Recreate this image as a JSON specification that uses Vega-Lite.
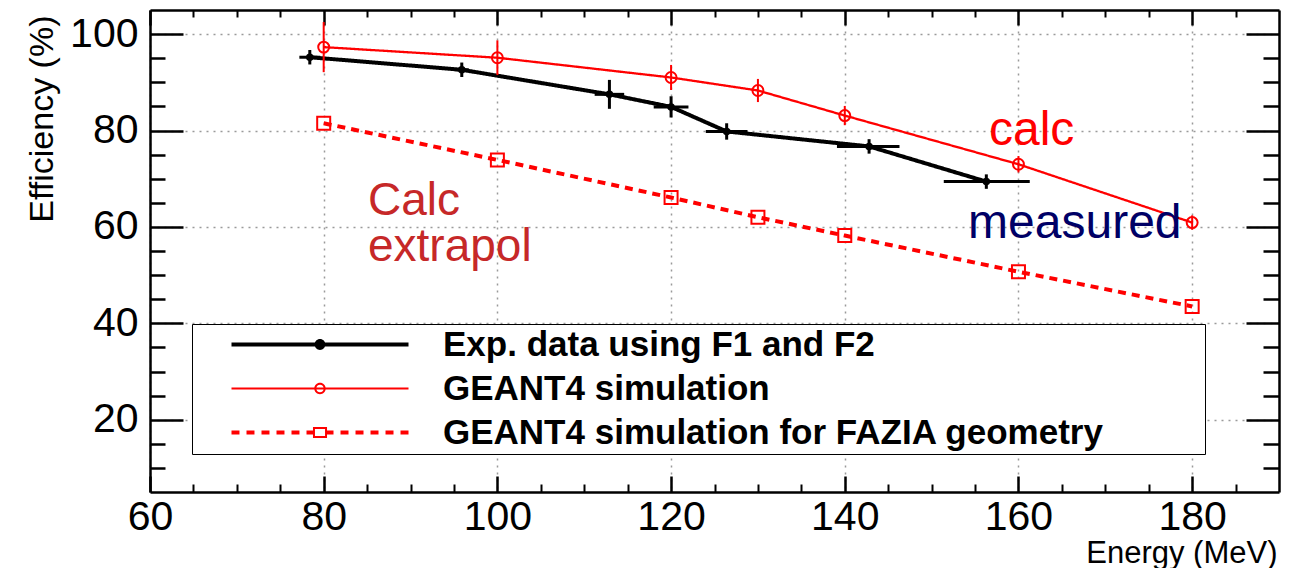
{
  "$schema": "https://vega.github.io/schema/vega-lite/v6.json",
  "width": 1129,
  "height": 482,
  "autosize": {"type": "none"},
  "padding": {"left": 150, "top": 10, "right": 19, "bottom": 76},
  "background": "white",
  "config": {"font": "Liberation Sans", "view": {"stroke": null}},
  "datasets": {
    "series": [
      {"s": "Exp. data using F1 and F2", "E": 78.4, "eff": 95.2, "Elo": 77.2, "Ehi": 79.6, "efflo": 93.7, "effhi": 96.7},
      {"s": "Exp. data using F1 and F2", "E": 95.9, "eff": 92.6, "Elo": 95.1, "Ehi": 96.7, "efflo": 91.1, "effhi": 94.1},
      {"s": "Exp. data using F1 and F2", "E": 112.9, "eff": 87.5, "Elo": 111.2, "Ehi": 114.6, "efflo": 84.5, "effhi": 90.5},
      {"s": "Exp. data using F1 and F2", "E": 120.0, "eff": 84.9, "Elo": 118.0, "Ehi": 122.0, "efflo": 82.7, "effhi": 87.1},
      {"s": "Exp. data using F1 and F2", "E": 126.4, "eff": 79.8, "Elo": 124.0, "Ehi": 128.8, "efflo": 78.1, "effhi": 81.5},
      {"s": "Exp. data using F1 and F2", "E": 142.8, "eff": 76.7, "Elo": 139.1, "Ehi": 146.3, "efflo": 75.2, "effhi": 78.2},
      {"s": "Exp. data using F1 and F2", "E": 156.3, "eff": 69.4, "Elo": 151.4, "Ehi": 161.3, "efflo": 67.9, "effhi": 70.9},
      {"s": "GEANT4 simulation", "E": 80, "eff": 97.3, "efflo": 92.1, "effhi": 102.5},
      {"s": "GEANT4 simulation", "E": 100, "eff": 95.1, "efflo": 91.5, "effhi": 98.7},
      {"s": "GEANT4 simulation", "E": 120, "eff": 91.0, "efflo": 88.4, "effhi": 93.6},
      {"s": "GEANT4 simulation", "E": 130, "eff": 88.3, "efflo": 85.9, "effhi": 90.7},
      {"s": "GEANT4 simulation", "E": 140, "eff": 83.1, "efflo": 81.1, "effhi": 85.1},
      {"s": "GEANT4 simulation", "E": 160, "eff": 73.0, "efflo": 71.3, "effhi": 74.7},
      {"s": "GEANT4 simulation", "E": 180, "eff": 60.9, "efflo": 59.4, "effhi": 62.4},
      {"s": "GEANT4 simulation for FAZIA geometry", "E": 80, "eff": 81.5},
      {"s": "GEANT4 simulation for FAZIA geometry", "E": 100, "eff": 73.9},
      {"s": "GEANT4 simulation for FAZIA geometry", "E": 120, "eff": 66.1},
      {"s": "GEANT4 simulation for FAZIA geometry", "E": 130, "eff": 62.0},
      {"s": "GEANT4 simulation for FAZIA geometry", "E": 140, "eff": 58.2},
      {"s": "GEANT4 simulation for FAZIA geometry", "E": 160, "eff": 50.7},
      {"s": "GEANT4 simulation for FAZIA geometry", "E": 180, "eff": 43.5}
    ],
    "notes": [
      {"note": "Calc\nextrapol", "E": 85.1, "eff": 62.4},
      {"note": "calc", "E": 156.6, "eff": 77.0},
      {"note": "measured", "E": 154.2, "eff": 57.7}
    ]
  },
  "resolve": {"axis": {"x": "independent", "y": "independent"}},
  "layer": [
    {
      "data": {"name": "series"},
      "mark": {"type": "line", "strokeCap": "butt"},
      "encoding": {
        "x": {"field": "E", "type": "quantitative", "scale": {"domain": [60, 190], "nice": false, "zero": false},
          "axis": {"orient": "bottom", "values": [60, 80, 100, 120, 140, 160, 180], "tickSize": -16, "tickWidth": 2.5, "tickColor": "black",
            "domain": true, "domainColor": "black", "domainWidth": 2.5,
            "grid": true, "gridColor": "#9a9a9a", "gridDash": [2, 5], "gridWidth": 1.5,
            "labelFont": "Liberation Sans", "labelFontSize": 41, "labelColor": "black", "labelPadding": 21, "labelFlush": false, "labelOverlap": false,
            "title": "Energy (MeV)", "titleFont": "Liberation Sans", "titleFontSize": 31, "titleFontWeight": "normal", "titleColor": "black",
            "titleAnchor": "end", "titleAlign": "right", "titleBaseline": "alphabetic", "titleX": 1127, "titleY": 70}},
        "y": {"field": "eff", "type": "quantitative", "scale": {"domain": [5, 105], "nice": false, "zero": false},
          "axis": {"orient": "left", "values": [20, 40, 60, 80, 100], "tickSize": -33, "tickWidth": 2.5, "tickColor": "black",
            "domain": true, "domainColor": "black", "domainWidth": 2.5,
            "grid": true, "gridColor": "#9a9a9a", "gridDash": [2, 5], "gridWidth": 1.5,
            "labelFont": "Liberation Sans", "labelFontSize": 41, "labelColor": "black", "labelPadding": 45, "labelFlush": false, "labelOverlap": false,
            "title": "Efficiency (%)", "titleFont": "Liberation Sans", "titleFontSize": 34, "titleFontWeight": "normal", "titleColor": "black",
            "titleAnchor": "end", "titleAngle": -90, "titleAlign": "right", "titleBaseline": "alphabetic", "titleX": -98, "titleY": 5}},
        "color": {"field": "s", "type": "nominal",
          "scale": {"domain": ["Exp. data using F1 and F2", "GEANT4 simulation", "GEANT4 simulation for FAZIA geometry"], "range": ["black", "#ff0000", "#ff0000"]},
          "legend": {
            "orient": "none", "legendX": 42, "legendY": 314, "direction": "vertical", "title": null,
            "fillColor": "white", "strokeColor": "black", "padding": 3, "cornerRadius": 0,
            "labelFont": "Liberation Sans", "labelFontSize": 35, "labelFontWeight": "bold", "labelColor": "black", "labelLimit": 3000,
            "labelOffset": 194, "symbolOffset": 19, "symbolSize": 144, "rowPadding": 8,
            "labelExpr": "datum.label + '          \u200b'",
            "symbolStrokeWidth": 0,
            "symbolOpacity": 1,
            "symbolFillColor": {"expr": "datum.value === 'Exp. data using F1 and F2' ? 'black' : '#ff0000'"},
            "symbolType": {"expr": "datum.value === 'Exp. data using F1 and F2' ? 'M0,-0.333H29.5V0.333H0ZM15.65,0A0.9,0.9,0,1,1,13.85,0A0.9,0.9,0,1,1,15.65,0Z' : datum.value === 'GEANT4 simulation' ? 'M0,-0.167H29.5V0.167H0ZM15.7,0A0.95,0.95,0,1,1,13.8,0A0.95,0.95,0,1,1,15.7,0ZM15.37,0A0.62,0.62,0,1,0,14.13,0A0.62,0.62,0,1,0,15.37,0Z' : 'M0,-0.333H1.33V0.333H0ZM2.5,-0.333H3.83V0.333H2.5ZM5,-0.333H6.33V0.333H5ZM7.5,-0.333H8.83V0.333H7.5ZM10,-0.333H11.33V0.333H10ZM12.5,-0.333H13.58V0.333H12.5ZM15.92,-0.333H17V0.333H15.92ZM18.17,-0.333H19.5V0.333H18.17ZM20.67,-0.333H22V0.333H20.67ZM23.17,-0.333H24.5V0.333H23.17ZM25.67,-0.333H27V0.333H25.67ZM28.17,-0.333H29.5V0.333H28.17ZM13.58,-0.92H15.92V0.92H13.58ZM13.91,-0.59V0.59H15.59V-0.59Z'"},
            "encode": {"legend": {"strokeWidth": {"value": 2}}}
          }},
        "strokeDash": {"field": "s", "type": "nominal", "legend": null,
          "scale": {"domain": ["GEANT4 simulation", "Exp. data using F1 and F2", "GEANT4 simulation for FAZIA geometry"], "range": [[1, 0], [1, 0], [8, 6]]}},
        "strokeWidth": {"field": "s", "type": "nominal", "legend": null,
          "scale": {"type": "ordinal", "domain": ["GEANT4 simulation", "Exp. data using F1 and F2", "GEANT4 simulation for FAZIA geometry"], "range": [2.3, 4, 4]}}
      }
    },
    {
      "data": {"name": "series"},
      "mark": {"type": "point", "strokeWidth": 2, "opacity": 1},
      "encoding": {
        "x": {"field": "E", "type": "quantitative", "scale": {"domain": [60, 190], "nice": false, "zero": false},
          "axis": {"orient": "bottom", "values": [65, 70, 75, 85, 90, 95, 105, 110, 115, 125, 130, 135, 145, 150, 155, 165, 170, 175, 185],
            "tickSize": -8, "tickWidth": 2, "tickColor": "black", "domain": false, "grid": false, "labels": false, "title": null}},
        "y": {"field": "eff", "type": "quantitative", "scale": {"domain": [5, 105], "nice": false, "zero": false},
          "axis": {"orient": "left", "values": [10, 15, 25, 30, 35, 45, 50, 55, 65, 70, 75, 85, 90, 95],
            "tickSize": -15, "tickWidth": 2.5, "tickColor": "black", "domain": false, "grid": false, "labels": false, "title": null}},
        "shape": {"field": "s", "type": "nominal", "legend": null,
          "scale": {"domain": ["GEANT4 simulation", "Exp. data using F1 and F2", "GEANT4 simulation for FAZIA geometry"], "range": ["circle", "circle", "square"]}},
        "size": {"field": "s", "type": "nominal", "legend": null,
          "scale": {"type": "ordinal", "domain": ["GEANT4 simulation", "Exp. data using F1 and F2", "GEANT4 simulation for FAZIA geometry"], "range": [120, 30, 169]}},
        "fill": {"field": "s", "type": "nominal", "legend": null,
          "scale": {"domain": ["GEANT4 simulation", "Exp. data using F1 and F2", "GEANT4 simulation for FAZIA geometry"], "range": ["transparent", "black", "transparent"]}},
        "stroke": {"field": "s", "type": "nominal", "legend": null,
          "scale": {"domain": ["GEANT4 simulation", "Exp. data using F1 and F2", "GEANT4 simulation for FAZIA geometry"], "range": ["#ff0000", "black", "#ff0000"]}}
      }
    },
    {
      "data": {"name": "series"},
      "transform": [{"filter": "datum.s === 'Exp. data using F1 and F2'"}],
      "mark": {"type": "rule", "color": "black", "strokeWidth": 3},
      "encoding": {
        "x": {"field": "E", "type": "quantitative", "scale": {"domain": [60, 190], "nice": false, "zero": false},
          "axis": {"orient": "top", "values": [60, 80, 100, 120, 140, 160, 180], "tickSize": -15, "tickWidth": 2.5, "tickColor": "black",
            "domain": true, "domainColor": "black", "domainWidth": 2.5, "grid": false, "labels": false, "title": null}},
        "y": {"field": "efflo", "type": "quantitative", "scale": {"domain": [5, 105], "nice": false, "zero": false},
          "axis": {"orient": "right", "values": [20, 40, 60, 80, 100], "tickSize": -33, "tickWidth": 2.5, "tickColor": "black",
            "domain": true, "domainColor": "black", "domainWidth": 2.5, "grid": false, "labels": false, "title": null}},
        "y2": {"field": "effhi"}
      }
    },
    {
      "data": {"name": "series"},
      "transform": [{"filter": "datum.s === 'Exp. data using F1 and F2'"}],
      "mark": {"type": "rule", "color": "black", "strokeWidth": 3},
      "encoding": {
        "x": {"field": "Elo", "type": "quantitative", "scale": {"domain": [60, 190], "nice": false, "zero": false},
          "axis": {"orient": "top", "values": [65, 70, 75, 85, 90, 95, 105, 110, 115, 125, 130, 135, 145, 150, 155, 165, 170, 175, 185],
            "tickSize": -7, "tickWidth": 2, "tickColor": "black", "domain": false, "grid": false, "labels": false, "title": null}},
        "x2": {"field": "Ehi"},
        "y": {"field": "eff", "type": "quantitative", "scale": {"domain": [5, 105], "nice": false, "zero": false},
          "axis": {"orient": "right", "values": [10, 15, 25, 30, 35, 45, 50, 55, 65, 70, 75, 85, 90, 95],
            "tickSize": -16, "tickWidth": 2.5, "tickColor": "black", "domain": false, "grid": false, "labels": false, "title": null}}
      }
    },
    {
      "data": {"name": "series"},
      "transform": [{"filter": "datum.s === 'GEANT4 simulation'"}],
      "mark": {"type": "rule", "color": "#ff0000", "strokeWidth": 2},
      "encoding": {
        "x": {"field": "E", "type": "quantitative", "scale": {"domain": [60, 190], "nice": false, "zero": false}, "axis": null},
        "y": {"field": "efflo", "type": "quantitative", "scale": {"domain": [5, 105], "nice": false, "zero": false}, "axis": null},
        "y2": {"field": "effhi"}
      }
    },
    {
      "data": {"name": "notes"},
      "transform": [{"filter": "datum.note === 'Calc\\nextrapol'"}],
      "mark": {"type": "text", "align": "left", "baseline": "alphabetic", "font": "Liberation Sans", "fontSize": 46, "lineBreak": "\n", "lineHeight": 46, "color": "#c62828"},
      "encoding": {
        "x": {"field": "E", "type": "quantitative", "scale": {"domain": [60, 190], "nice": false, "zero": false}, "axis": null},
        "y": {"field": "eff", "type": "quantitative", "scale": {"domain": [5, 105], "nice": false, "zero": false}, "axis": null},
        "text": {"field": "note"}
      }
    },
    {
      "data": {"name": "notes"},
      "transform": [{"filter": "datum.note === 'calc'"}],
      "mark": {"type": "text", "align": "left", "baseline": "alphabetic", "font": "Liberation Sans", "fontSize": 48, "color": "#ff0000"},
      "encoding": {
        "x": {"field": "E", "type": "quantitative", "scale": {"domain": [60, 190], "nice": false, "zero": false}, "axis": null},
        "y": {"field": "eff", "type": "quantitative", "scale": {"domain": [5, 105], "nice": false, "zero": false}, "axis": null},
        "text": {"field": "note"}
      }
    },
    {
      "data": {"name": "notes"},
      "transform": [{"filter": "datum.note === 'measured'"}],
      "mark": {"type": "text", "align": "left", "baseline": "alphabetic", "font": "Liberation Sans", "fontSize": 48, "color": "#000066"},
      "encoding": {
        "x": {"field": "E", "type": "quantitative", "scale": {"domain": [60, 190], "nice": false, "zero": false}, "axis": null},
        "y": {"field": "eff", "type": "quantitative", "scale": {"domain": [5, 105], "nice": false, "zero": false}, "axis": null},
        "text": {"field": "note"}
      }
    }
  ]
}
